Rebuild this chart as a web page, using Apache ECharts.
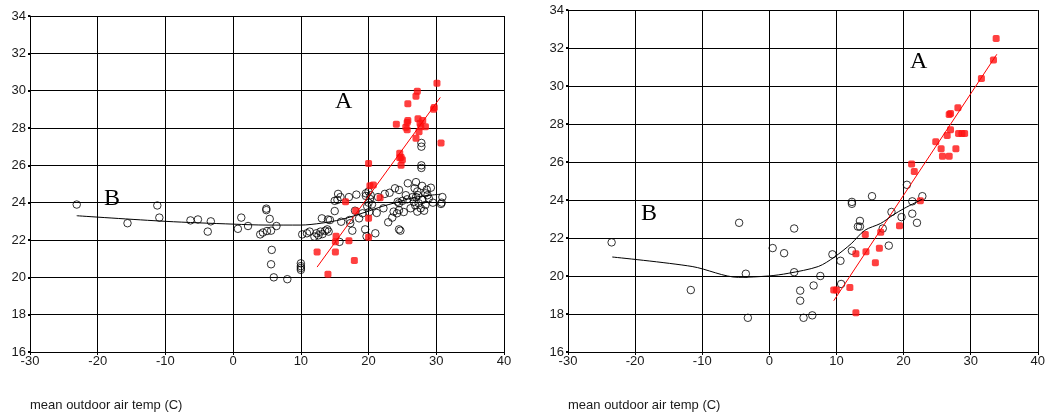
<!DOCTYPE html>
<html>
<head>
<meta charset="utf-8">
<script src="https://cdn.jsdelivr.net/npm/echarts@6/dist/echarts.min.js"></script>
<style>
html,body{margin:0;padding:0;background:#fff;}
#chart{width:1048px;height:415px;}
</style>
</head>
<body>
<div id="chart"></div>
<script>
// ---------- data ----------
var xTicks = [-30, 40, 10];          // min, max, interval
var yTicks = [16, 34, 2];
var xTitle = 'mean outdoor air temp (C)';

// left panel
var leftB = [[-23.1,23.9],[-15.6,22.9],[-11.2,23.85],[-10.9,23.2],[-6.3,23.05],[-5.2,23.1],[-3.3,23.0],[-3.75,22.45],
[0.7,22.6],[1.2,23.2],[2.2,22.75],[4.0,22.3],[4.4,22.4],[5.0,22.48],[5.6,22.5],[6.4,22.75],[4.9,23.6],[4.9,23.68],
[5.4,23.13],[5.7,21.47],[5.6,20.7],[6.0,20.0],[8.0,19.9],[10.0,20.4],[10.0,20.5],[10.0,20.6],[10.0,20.75],
[10.2,22.3],[10.9,22.36],[11.3,22.45],[12.3,22.36],[12.0,22.18],[12.6,22.25],[12.9,22.45],[13.6,22.5],[13.9,22.57],
[14.1,22.45],[13.2,22.32],[13.1,23.16],[14.0,23.1],[14.3,23.07],[15.0,23.55],[15.5,24.47],[15.85,24.3],[15.0,24.1],
[15.4,24.15],[17.1,24.3],[18.2,24.43],[19.6,24.5],[19.6,24.36],[15.95,22.98],[17.2,23.07],[17.3,22.9],[18.6,23.16],
[18.0,23.57],[19.1,23.43],[17.6,22.5],[19.5,22.57],[15.7,21.9],[19.7,22.2],
[20.0,24.0],[20.2,24.2],[20.0,24.6],[20.3,24.4],[19.8,23.8],[20.1,23.5],[20.5,23.9],
[21.2,23.45],[21.0,22.36],[22.9,22.95],[24.5,22.57],[24.7,22.5],[22.4,24.47],[23.1,24.53],[23.9,24.77],[24.5,24.68],
[25.8,25.04],[24.3,24.05],[24.5,23.97],[25.0,24.1],[25.5,24.4],[25.7,24.18],[26.5,24.3],[26.8,24.77],[27.2,24.6],
[27.0,24.3],[26.7,24.05],[27.4,23.97],[27.7,23.7],[27.95,24.15],[28.7,24.4],[28.9,24.23],[29.2,24.8],[28.4,23.88],
[28.2,23.57],[27.2,23.52],[24.2,23.43],[24.5,23.6],[23.7,23.52],[30.9,24.3],[30.7,23.93],
[27.8,27.2],[27.8,27.0],[27.8,26.0],[27.8,25.86],
[27.3,24.4],[27.9,24.9],[28.4,24.5],[28.6,24.7],[30.8,24.0],[29.5,24.0],[26.9,23.85],[26.2,23.7],[27.0,25.1],
[23.5,23.2],[22.2,23.7],[21.4,24.3],[25.2,23.5]];
var leftA = [[30.1,30.4],[27.2,29.97],[27.0,29.7],[25.8,29.3],[29.6,29.0],[29.7,29.1],[25.8,28.4],[24.1,28.2],
[25.7,27.9],[27.6,28.25],[27.7,28.07],[28.4,28.07],[27.45,27.8],[27.0,27.45],[30.7,27.2],[24.6,26.65],[24.8,26.43],
[24.99,26.3],[24.8,26.0],[20.0,26.1],[20.7,24.95],[21.7,24.27],[16.6,24.05],[18.1,23.57],[20.0,23.16],[20.0,22.15],
[15.2,22.2],[15.1,21.9],[17.1,21.96],[12.4,21.36],[15.1,21.36],[17.9,20.9],[14.0,20.16],[25.5,28.04],[25.7,28.3],
[27.3,28.5],[28.0,28.4],[24.6,26.4],[20.2,24.9]];
var leftALine = [[12.4,20.55],[30.6,29.64]];
var leftBLine = [[-23.1,23.3],[-10,23.0],[0,22.85],[5,22.8],[10,22.8],[13,22.9],[16,23.1],[19.6,23.5],[22,23.8],
[24,24.0],[27,24.3],[30.6,24.45]];

// right panel
var rightB = [[-23.5,21.77],[-4.5,22.8],[-11.7,19.26],[-3.5,20.12],[-3.2,17.8],[0.5,21.47],[2.2,21.2],[3.7,22.5],
[3.7,20.2],[4.6,19.23],[4.6,18.7],[5.1,17.8],[6.4,17.93],[6.6,19.5],[7.6,20.0],[9.4,21.14],[10.6,20.8],[10.7,19.58],
[12.3,23.9],[12.3,23.8],[12.3,21.33],[13.5,22.9],[13.2,22.6],[13.5,22.6],[15.3,24.2],[16.9,22.5],[17.8,21.6],
[18.2,23.37],[19.7,23.1],[20.5,24.8],[21.3,23.93],[21.3,23.28],[22.0,22.8],[22.8,24.2]];
var rightA = [[33.8,32.5],[33.4,31.37],[31.6,30.4],[28.1,28.86],[26.8,28.5],[27.0,28.55],[27.0,27.7],[26.5,27.4],
[28.2,27.5],[28.7,27.5],[29.1,27.5],[24.8,27.07],[25.6,26.7],[27.8,26.7],[25.8,26.3],[26.8,26.3],[21.2,25.9],
[21.6,25.5],[22.5,23.96],[19.4,22.65],[16.6,22.3],[14.3,22.18],[16.4,21.46],[14.4,21.28],[12.9,21.17],[15.8,20.7],
[9.6,19.26],[10.0,19.26],[12.0,19.4],[12.9,18.07]];
var rightALine = [[9.6,18.7],[33.9,31.67]];
var rightBLine = [[-23.4,21.0],[-11.5,20.5],[-4.6,19.93],[-0.15,20.0],[2.8,20.14],[7.3,20.5],[9.7,21.0],[12.2,21.7],
[14.2,22.4],[16.6,22.77],[18.4,23.2],[20.1,23.56],[22.8,24.04]];

// ---------- chart ----------
var FONT = '"Liberation Sans", Arial, sans-serif';
var chart = echarts.init(document.getElementById('chart'), null, {renderer: 'canvas'});

function xAx(gi) {
  return {
    type: 'value', gridIndex: gi, min: xTicks[0], max: xTicks[1], interval: xTicks[2],
    axisLine: {onZero: false, lineStyle: {color: '#000', width: 1}},
    axisTick: {show: true, length: 3, lineStyle: {color: '#000'}},
    axisLabel: {color: '#1a1a1a', fontFamily: FONT, fontSize: 13, margin: 3},
    splitLine: {show: true, lineStyle: {color: '#000', width: 1}}
  };
}
function yAx(gi) {
  return {
    type: 'value', gridIndex: gi, min: yTicks[0], max: yTicks[1], interval: yTicks[2],
    axisLine: {onZero: false, lineStyle: {color: '#000', width: 1}},
    axisTick: {show: true, length: 2, lineStyle: {color: '#000', width: 2}},
    axisLabel: {color: '#1a1a1a', fontFamily: FONT, fontSize: 13, margin: 4},
    splitLine: {show: true, lineStyle: {color: '#000', width: 1}}
  };
}
function circles(data, gi) {
  return {type: 'scatter', xAxisIndex: gi, yAxisIndex: gi, data: data, symbol: 'circle', symbolSize: 7.5,
    itemStyle: {color: 'rgba(255,255,255,0)', borderColor: '#000', borderWidth: 1}, z: 3, silent: true};
}
function squares(data, gi) {
  return {type: 'scatter', xAxisIndex: gi, yAxisIndex: gi, data: data, symbol: 'roundRect', symbolSize: 7,
    itemStyle: {color: '#ff1010'}, z: 4, silent: true};
}
function line(data, gi, color, smooth) {
  return {type: 'line', xAxisIndex: gi, yAxisIndex: gi, data: data, symbol: 'none', smooth: smooth,
    lineStyle: {color: color, width: 1}, z: 5, silent: true};
}
function label(txt, x, y) {
  return {type: 'text', left: x, top: y, style: {text: txt, fill: '#000', font: '24px "Liberation Serif", "Times New Roman", serif'}};
}
function title(txt, x, y) {
  return {type: 'text', left: x, top: y, style: {text: txt, fill: '#1a1a1a', font: '13px ' + FONT}};
}

chart.setOption({
  animation: false,
  backgroundColor: '#fff',
  grid: [
    {left: 30, top: 16, width: 474, height: 336},
    {left: 568, top: 10, width: 473, height: 342}
  ],
  xAxis: [xAx(0), xAx(1)],
  yAxis: [yAx(0), yAx(1)],
  series: [
    circles(leftB, 0), squares(leftA, 0), line(leftALine, 0, '#ff0000', false), line(leftBLine, 0, '#000', 0.3),
    circles(rightB, 1), squares(rightA, 1), line(rightALine, 1, '#ff0000', false), line(rightBLine, 1, '#000', 0.3)
  ],
  graphic: [
    label('A', 335, 90), label('B', 104, 187),
    label('A', 910, 50), label('B', 641, 202),
    title(xTitle, 30, 399), title(xTitle, 568, 399)
  ]
});
</script>
</body>
</html>
